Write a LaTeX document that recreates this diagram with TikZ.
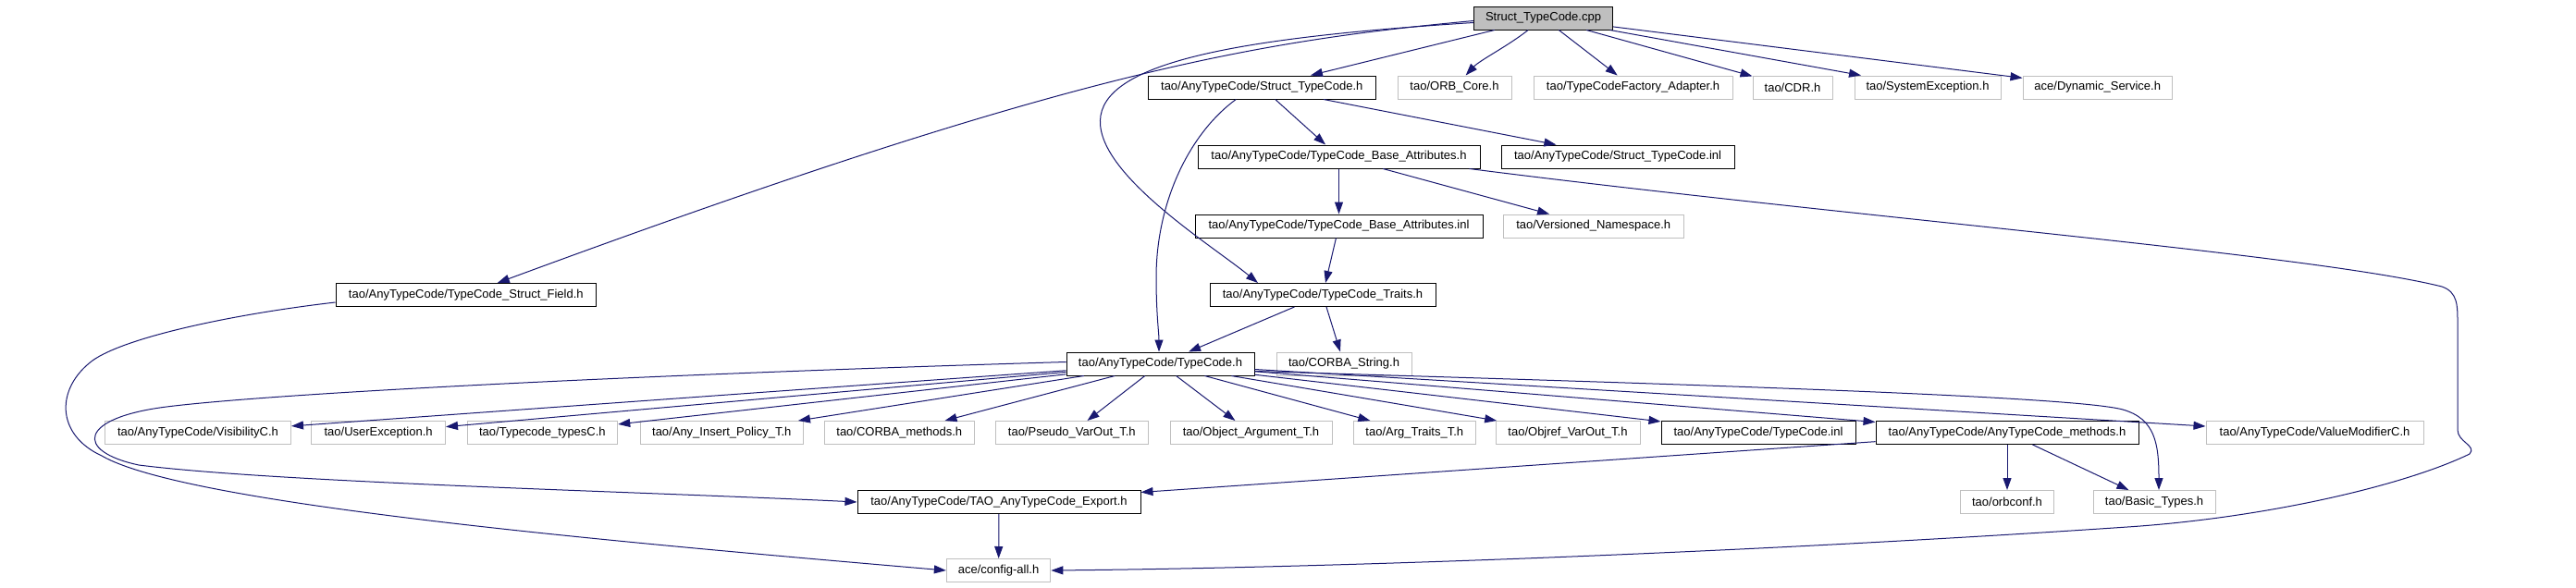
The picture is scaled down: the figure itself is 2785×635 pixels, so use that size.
\documentclass[tikz,border=0pt]{standalone}
\usepackage{fontspec}
\setmainfont{Liberation Sans}
\usetikzlibrary{arrows.meta,calc}
\definecolor{edgec}{HTML}{191970}
\definecolor{grayc}{HTML}{BFBFBF}
\tikzset{
  box/.style={draw, rectangle, minimum height=25pt, inner sep=0pt, line width=1pt,
    font=\fontsize{13}{15}\selectfont, text=black},
  doc/.style={box, draw=black},
  undoc/.style={box, draw=grayc},
  rootbox/.style={box, draw=black, fill=grayc},
  dep/.style={draw=edgec, line width=1pt, -{Triangle[length=13pt,width=9pt]}, color=edgec},
}
\begin{document}
\begin{tikzpicture}[x=1pt,y=-1pt]
\path[fill=white,use as bounding box] (0,0) rectangle (2785,635);

% row 0
\node[rootbox, minimum width=150] (cpp) at (1668.5,19.5) {Struct\_TypeCode.cpp};
% row 1
\node[doc, minimum width=245.5] (sth) at (1364.25,94.5) {tao/AnyTypeCode/Struct\_TypeCode.h};
\node[undoc, minimum width=123] (orb) at (1572.5,94.5) {tao/ORB\_Core.h};
\node[undoc, minimum width=215] (tcfa) at (1765.5,94.5) {tao/TypeCodeFactory\_Adapter.h};
\node[undoc, minimum width=86] (cdr) at (1938,94.5) {tao/CDR.h};
\node[undoc, minimum width=158] (sysex) at (2084,94.5) {tao/SystemException.h};
\node[undoc, minimum width=161.5] (dyn) at (2267.75,94.5) {ace/Dynamic\_Service.h};
% row 2
\node[doc, minimum width=305] (tba) at (1447.5,169.5) {tao/AnyTypeCode/TypeCode\_Base\_Attributes.h};
\node[doc, minimum width=252] (stinl) at (1749,169.5) {tao/AnyTypeCode/Struct\_TypeCode.inl};
% row 3
\node[doc, minimum width=311] (tbainl) at (1447.5,244.5) {tao/AnyTypeCode/TypeCode\_Base\_Attributes.inl};
\node[undoc, minimum width=195.5] (vns) at (1722.75,244.5) {tao/Versioned\_Namespace.h};
% row 4
\node[doc, minimum width=281.6] (sf) at (503.8,319) {tao/AnyTypeCode/TypeCode\_Struct\_Field.h};
\node[doc, minimum width=244] (traits) at (1430,319) {tao/AnyTypeCode/TypeCode\_Traits.h};
% row 5
\node[doc, minimum width=203] (tch) at (1254.5,393.5) {tao/AnyTypeCode/TypeCode.h};
\node[undoc, minimum width=146] (cstr) at (1453,393.5) {tao/CORBA\_String.h};
% row 6
\node[undoc, minimum width=201] (vis) at (214,468) {tao/AnyTypeCode/VisibilityC.h};
\node[undoc, minimum width=144.8] (uex) at (409.1,468) {tao/UserException.h};
\node[undoc, minimum width=162.7] (tts) at (586.4,468) {tao/Typecode\_typesC.h};
\node[undoc, minimum width=176.6] (aip) at (780.3,468) {tao/Any\_Insert\_Policy\_T.h};
\node[undoc, minimum width=161.4] (cm) at (972.3,468) {tao/CORBA\_methods.h};
\node[undoc, minimum width=164.5] (pvo) at (1158.8,468) {tao/Pseudo\_VarOut\_T.h};
\node[undoc, minimum width=175] (oat) at (1352.5,468) {tao/Object\_Argument\_T.h};
\node[undoc, minimum width=131.4] (att) at (1529.3,468) {tao/Arg\_Traits\_T.h};
\node[undoc, minimum width=156] (ovo) at (1695,468) {tao/Objref\_VarOut\_T.h};
\node[doc, minimum width=210] (tcinl) at (1901,468) {tao/AnyTypeCode/TypeCode.inl};
\node[doc, minimum width=284] (atm) at (2170,468) {tao/AnyTypeCode/AnyTypeCode\_methods.h};
\node[undoc, minimum width=235] (vmc) at (2502.5,468) {tao/AnyTypeCode/ValueModifierC.h};
% row 7
\node[doc, minimum width=306] (exp) at (1080,543) {tao/AnyTypeCode/TAO\_AnyTypeCode\_Export.h};
\node[undoc, minimum width=101.5] (orbconf) at (2170,543) {tao/orbconf.h};
\node[undoc, minimum width=132] (bt) at (2329,543) {tao/Basic\_Types.h};
% row 8
\node[undoc, minimum width=112.5] (cfg) at (1079.6,617) {ace/config-all.h};

% edges from cpp
\draw[dep] (cpp) -- (sth);
\draw[dep] (cpp) .. controls (1630,50) and (1600,65) .. (orb);
\draw[dep] (cpp) -- (tcfa);
\draw[dep] (cpp) -- (cdr);
\draw[dep] (cpp) -- (sysex);
\draw[dep] (cpp) -- (dyn);
\draw[dep] ($(cpp.west)+(0,3)$) .. controls (1350,45) and (1150,80) .. ($(sf.north)+(34,0)$);
\draw[dep] ($(cpp.west)+(0,5)$) .. controls (1350,40) and (1200,65) .. (1190,125)
   .. controls (1180,185) and (1310,265) .. ($(traits.north)+(-70,0)$);

% edges from Struct_TypeCode.h
\draw[dep] (sth) -- (tba);
\draw[dep] (sth) -- (stinl);
\draw[dep] ($(sth.south)+(-28,0)$) .. controls (1285,145) and (1250,220) .. (1250,300)
   .. controls (1250,340) and (1253,360) .. ($(tch.north)+(-1.5,0)$);

% edges from TypeCode_Base_Attributes.h
\draw[dep] (tba) -- (tbainl);
\draw[dep] (tba) -- (vns);
\draw[dep] ($(tba.south east)+(-12,0)$) .. controls (2000,235) and (2500,275) .. (2640,310)
   .. controls (2657,316) and (2657,330) .. (2657,350) -- (2657,465)
   .. controls (2657,478) and (2678,482) .. (2670,491)
   .. controls (2600,525) and (2450,560) .. (2300,570)
   .. controls (1900,597) and (1450,614) .. (cfg.east);

% Base_Attributes.inl
\draw[dep] (tbainl) -- (traits);

% Traits
\draw[dep] (traits) -- (tch);
\draw[dep] (traits) -- (cstr);

% Struct_Field
\draw[dep] ($(sf.west)+(0,8)$) .. controls (250,340) and (135,365) .. (100,390)
   .. controls (60,420) and (60,470) .. (110,493)
   .. controls (200,545) and (650,585) .. (cfg.west);

% TypeCode.h
\draw[dep] (tch) -- (vis);
\draw[dep] (tch) -- (uex);
\draw[dep] (tch) -- (tts);
\draw[dep] (tch) -- (aip);
\draw[dep] (tch) -- (cm);
\draw[dep] (tch) -- (pvo);
\draw[dep] (tch) -- (oat);
\draw[dep] (tch) -- (att);
\draw[dep] (tch) -- (ovo);
\draw[dep] (tch) -- (tcinl);
\draw[dep] (tch) -- (atm);
\draw[dep] (tch) -- (vmc);
\draw[dep] ($(tch.east)+(0,8)$) .. controls (1800,415) and (2240,428) .. (2295,443)
   .. controls (2330,453) and (2334,480) .. ($(bt.north)+(5,0)$);
\draw[dep] ($(tch.west)+(0,-2)$) .. controls (700,405) and (300,425) .. (180,440)
   .. controls (85,452) and (80,488) .. (150,503)
   .. controls (300,522) and (700,532) .. (exp.west);

% AnyTypeCode_methods.h
\draw[dep] (atm) -- (exp);
\draw[dep] (atm) -- (orbconf);
\draw[dep] (atm) -- (bt);

% Export
\draw[dep] (exp) -- (cfg);
\end{tikzpicture}
\end{document}
